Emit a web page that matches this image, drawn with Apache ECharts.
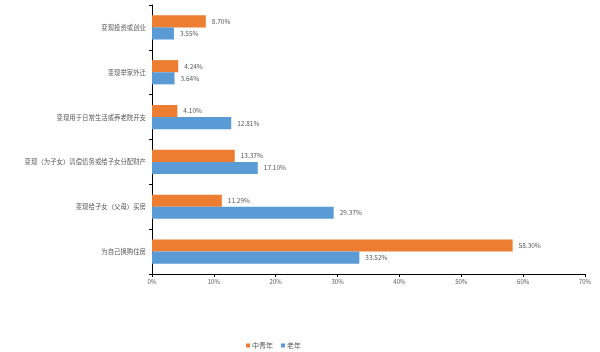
<!DOCTYPE html>
<html>
<head>
<meta charset="utf-8">
<script src="https://cdn.jsdelivr.net/npm/echarts@6/dist/echarts.min.js"></script>
<style>
  html, body { margin: 0; padding: 0; background: #fff; }
  #chart { width: 600px; height: 352px; }
</style>
</head>
<body>
<div id="chart"></div>
<script>
// 类目 (top to bottom)
const categories = [
  '变现投资或创业',
  '变现举家外迁',
  '变现用于日常生活或养老院开支',
  '变现（为子女）清偿债务或给子女分配财产',
  '变现给子女（父母）买房',
  '为自己换购住房'
]
const youngMid = [8.70, 4.24, 4.10, 13.37, 11.29, 58.30]
const elderly = [3.55, 3.64, 12.81, 17.10, 29.37, 33.52]
const seriesNames = ['中青年', '老年']

const font = '"Noto Sans CJK SC", "Noto Sans", sans-serif'
const textColor = '#595959'

const chart = echarts.init(document.getElementById('chart'))

const labelStyle = {
  show: true,
  position: 'right',
  distance: 6,
  color: textColor,
  fontSize: 6.5,
  fontFamily: font,
  formatter: p => p.value.toFixed(2) + '%'
}

chart.setOption({
  animation: false,
  color: ['#ED7D31', '#5B9BD5'],
  grid: {
    left: 152,
    right: 15,
    top: 5,
    bottom: 78
  },
  legend: {
    top: 337,
    left: 241,
    itemWidth: 4,
    itemHeight: 4,
    itemGap: 8,
    icon: 'rect',
    textStyle: { color: textColor, fontSize: 7, fontFamily: font, padding: [0, 0, 0, -3] },
    data: seriesNames
  },
  xAxis: {
    type: 'value',
    min: 0,
    max: 70,
    interval: 10,
    axisLine: { show: true, lineStyle: { color: '#000', width: 1 } },
    axisTick: { show: true, length: 3, lineStyle: { color: '#000' } },
    splitLine: { show: false },
    axisLabel: {
      color: textColor,
      fontSize: 6,
      fontFamily: font,
      margin: 5,
      formatter: v => v + '%'
    }
  },
  yAxis: {
    type: 'category',
    inverse: true,
    data: categories,
    axisLine: { show: true, lineStyle: { color: '#000', width: 1 } },
    axisTick: { show: true, length: 3, lineStyle: { color: '#000' } },
    axisLabel: {
      color: textColor,
      fontSize: 6.4,
      fontFamily: font,
      margin: 6
    }
  },
  series: [
    {
      name: seriesNames[0],
      type: 'bar',
      data: youngMid,
      barGap: '0%',
      barCategoryGap: '46%',
      label: labelStyle
    },
    {
      name: seriesNames[1],
      type: 'bar',
      data: elderly,
      barGap: '0%',
      barCategoryGap: '46%',
      label: labelStyle
    }
  ]
})
</script>
</body>
</html>
